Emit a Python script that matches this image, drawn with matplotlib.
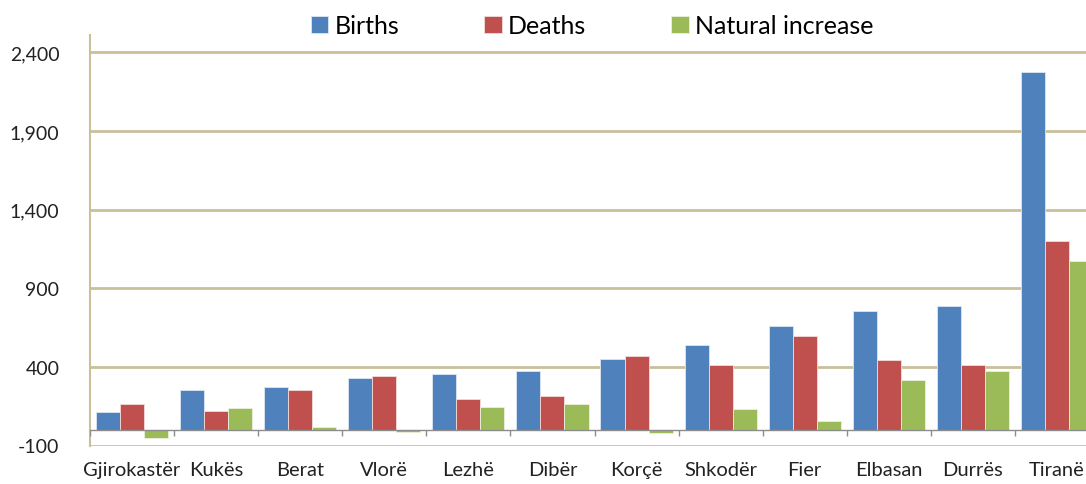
import numpy as np
import matplotlib.pyplot as plt

regions = ["Gjirokastër", "Kukës", "Berat", "Vlorë", "Lezhë", "Dibër",
           "Korçë", "Shkodër", "Fier", "Elbasan", "Durrës", "Tiranë"]
births = [112, 256, 275, 329, 354, 377, 453, 538, 657, 758, 786, 2274]
deaths = [163, 121, 256, 343, 197, 214, 472, 409, 598, 445, 409, 1203]
natural = [-54, 136, 18, -14, 148, 162, -20, 129, 55, 316, 377, 1071]
yticks = [-100, 400, 900, 1400, 1900, 2400]

plt.rcParams['font.family'] = ['Lato', 'DejaVu Sans']

fig = plt.figure(figsize=(10.86, 4.85), dpi=100)
# plot area runs past the right edge, as in the original
ax = fig.add_axes([90 / 1086, 38.5 / 485, 1009 / 1086, 410.5 / 485])

x = np.arange(len(regions))
w = 0.286
ax.bar(x - w, births, w, color='#4F81BD', edgecolor='#DCE6F2', linewidth=0.6, label='Births', zorder=3)
ax.bar(x, deaths, w, color='#C0504D', edgecolor='#F2DCDB', linewidth=0.6, label='Deaths', zorder=3)
ax.bar(x + w, natural, w, color='#9BBB59', edgecolor='#EBF1DE', linewidth=0.6, label='Natural increase', zorder=3)

ax.set_xlim(-0.5, len(regions) - 0.5)
ax.set_ylim(-100, 2511)

grid_c = '#C9C09A'
for t in yticks:
    ax.axhline(t, color=grid_c, linewidth=2, zorder=1)

# zero line with small ticks between categories
ax.axhline(0, color='#8C8C8C', linewidth=1, zorder=4)
bounds = np.arange(len(regions) + 1) - 0.5
ax.vlines(bounds, -38, 0, color='#8C8C8C', linewidth=1, zorder=4)

for s in ['top', 'right', 'bottom']:
    ax.spines[s].set_visible(False)
ax.spines['left'].set_color(grid_c)
ax.spines['left'].set_linewidth(1.5)

ax.set_yticks(yticks)
ax.set_yticklabels([f"{t:,}" for t in yticks])
ax.set_xticks(x)
ax.set_xticklabels(regions)
ax.tick_params(axis='y', length=0, pad=22, labelsize=14, colors='#222222')
ax.tick_params(axis='x', length=0, pad=11, labelsize=14.5, colors='#222222')

fig.legend(loc='upper center', bbox_to_anchor=(592 / 1086, 1.015), ncol=3, frameon=False,
           fontsize=18, handlelength=0.7, handleheight=0.7, handletextpad=0.25,
           columnspacing=3.4)

fig.savefig('out.png', dpi=100)
